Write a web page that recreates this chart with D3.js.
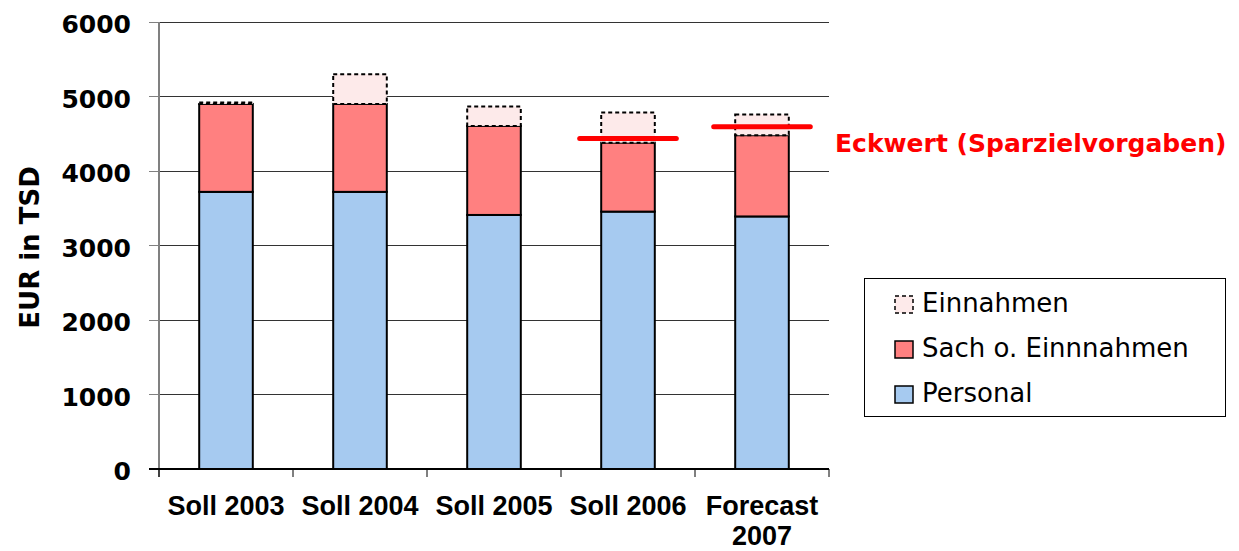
<!DOCTYPE html>
<html>
<head>
<meta charset="utf-8">
<script src="https://cdn.jsdelivr.net/npm/d3@7"></script>
<style>
  html, body { margin: 0; padding: 0; background: #fff; }
  svg { display: block; }
</style>
</head>
<body>
<svg id="chart" width="1239" height="551"></svg>
<script>
// Budget by year, in thousand EUR
const categories = ["Soll 2003", "Soll 2004", "Soll 2005", "Soll 2006", "Forecast 2007"];
const personal   = [3720, 3720, 3410, 3455, 3390];
const sach       = [1180, 1180, 1195, 925, 1090];
const einnahmen  = [20, 400, 260, 405, 280];
const eckwert    = [null, null, null, 4435, 4595];
const yTicks     = [0, 1000, 2000, 3000, 4000, 5000, 6000];
const seriesKeys = ["personal", "sach", "einnahmen"];
const seriesNames = { personal: "Personal", sach: "Sach o. Einnnahmen", einnahmen: "Einnahmen" };
const eckwertLabel = "Eckwert (Sparzielvorgaben)";
const yTitle = "EUR in TSD";

const rows = categories.map((c, i) => ({
  cat: c, personal: personal[i], sach: sach[i], einnahmen: einnahmen[i], eckwert: eckwert[i]
}));

const fills = { personal: "#a6caf0", sach: "#ff8080", einnahmen: "#fdeaea" };

const svg = d3.select("#chart");
const plot = { left: 159, right: 829, top: 22, bottom: 469 };

const x = d3.scaleBand().domain(categories).range([plot.left, plot.right]).paddingInner(0.6).paddingOuter(0.3);
const y = d3.scaleLinear().domain([0, 6000]).range([plot.bottom, plot.top]);

// horizontal grid lines
svg.append("g")
  .selectAll("line")
  .data(yTicks.filter(t => t > 0))
  .join("line")
  .attr("x1", plot.left).attr("x2", plot.right)
  .attr("y1", d => y(d)).attr("y2", d => y(d))
  .attr("stroke", "#333").attr("stroke-width", 1)
  .attr("shape-rendering", "crispEdges");

// stacked bars
const stack = d3.stack().keys(seriesKeys)(rows);
const barG = svg.append("g");
stack.forEach(layer => {
  const key = layer.key;
  barG.append("g")
    .selectAll("rect")
    .data(layer)
    .join("rect")
    .attr("x", d => x(d.data.cat))
    .attr("width", x.bandwidth())
    .attr("y", d => y(d[1]))
    .attr("height", d => y(d[0]) - y(d[1]))
    .attr("fill", fills[key])
    .attr("stroke", "#000")
    .attr("stroke-width", 2)
    .attr("stroke-dasharray", key === "einnahmen" ? "4,3" : null);
});

// target lines
const extend = 21.5;
svg.append("g")
  .selectAll("line")
  .data(rows.filter(r => r.eckwert != null))
  .join("line")
  .attr("x1", d => x(d.cat) - extend)
  .attr("x2", d => x(d.cat) + x.bandwidth() + extend)
  .attr("y1", d => y(d.eckwert)).attr("y2", d => y(d.eckwert))
  .attr("stroke", "#ff0000").attr("stroke-width", 5).attr("stroke-linecap", "round");

// left axis
const yAxis = svg.append("g");
yAxis.append("line")
  .attr("x1", plot.left).attr("x2", plot.left)
  .attr("y1", plot.top).attr("y2", plot.bottom + 8)
  .attr("stroke", "#808080").attr("stroke-width", 2);
yAxis.selectAll("line.tick")
  .data(yTicks)
  .join("line").attr("class", "tick")
  .attr("x1", plot.left - 10).attr("x2", plot.left)
  .attr("y1", d => y(d)).attr("y2", d => y(d))
  .attr("stroke", "#808080").attr("stroke-width", 1)
  .attr("shape-rendering", "crispEdges");
yAxis.selectAll("text")
  .data(yTicks)
  .join("text")
  .attr("x", 131)
  .attr("y", d => y(d) + 11)
  .attr("text-anchor", "end")
  .attr("font-family", "DejaVu Sans, sans-serif")
  .attr("font-weight", "bold")
  .attr("font-size", 25)
  .attr("fill", "#000")
  .text(d => d);

// y title
svg.append("text")
  .attr("transform", `translate(39,${(plot.top + plot.bottom) / 2 + 2}) rotate(-90)`)
  .attr("text-anchor", "middle")
  .attr("font-family", "DejaVu Sans, sans-serif")
  .attr("font-weight", "bold")
  .attr("font-size", 26)
  .attr("fill", "#000")
  .text(yTitle);

// bottom axis
const step = x.step();
const xAxis = svg.append("g");
xAxis.append("line")
  .attr("x1", plot.left - 10).attr("x2", plot.right)
  .attr("y1", plot.bottom).attr("y2", plot.bottom)
  .attr("stroke", "#000").attr("stroke-width", 2);
xAxis.selectAll("line.tick")
  .data(d3.range(categories.length + 1))
  .join("line").attr("class", "tick")
  .attr("x1", i => plot.left + i * step).attr("x2", i => plot.left + i * step)
  .attr("y1", plot.bottom).attr("y2", plot.bottom + 8)
  .attr("stroke", "#000").attr("stroke-width", 1);

const catLabels = xAxis.selectAll("text")
  .data(categories)
  .join("text")
  .attr("x", d => x(d) + x.bandwidth() / 2)
  .attr("y", 515)
  .attr("text-anchor", "middle")
  .attr("font-family", "Liberation Sans, Arial, sans-serif")
  .attr("font-weight", "bold")
  .attr("font-size", 27)
  .attr("fill", "#000");

// wrap category labels that do not fit in one band step
catLabels.each(function(d) {
  const t = d3.select(this);
  const words = d.split(" ");
  let line = [];
  let tspan = t.append("tspan").attr("x", t.attr("x")).attr("dy", 0);
  words.forEach(w => {
    line.push(w);
    tspan.text(line.join(" "));
    if (tspan.node().getComputedTextLength() > step - 6 && line.length > 1) {
      line.pop();
      tspan.text(line.join(" "));
      line = [w];
      tspan = t.append("tspan").attr("x", t.attr("x")).attr("dy", 30).text(w);
    }
  });
});

// target label
svg.append("text")
  .attr("x", 835).attr("y", 152)
  .attr("font-family", "DejaVu Sans, sans-serif")
  .attr("font-weight", "bold")
  .attr("font-size", 25)
  .attr("fill", "#ff0000")
  .text(eckwertLabel);

// legend
const legend = svg.append("g");
legend.append("rect")
  .attr("x", 864.5).attr("y", 278.5).attr("width", 361).attr("height", 138)
  .attr("fill", "#fff").attr("stroke", "#000").attr("stroke-width", 1);
const legendKeys = ["einnahmen", "sach", "personal"];
const legendY = d3.scalePoint().domain(legendKeys).range([312, 402]);
const items = legend.selectAll("g.item")
  .data(legendKeys)
  .join("g").attr("class", "item");
items.append("rect")
  .attr("x", 895).attr("y", d => legendY(d) - 16)
  .attr("width", 18).attr("height", 17)
  .attr("fill", d => fills[d])
  .attr("stroke", "#000")
  .attr("stroke-width", 1.5)
  .attr("stroke-dasharray", d => d === "einnahmen" ? "4,3" : null);
items.append("text")
  .attr("x", 922).attr("y", d => legendY(d))
  .attr("font-family", "DejaVu Sans, sans-serif")
  .attr("font-size", 26)
  .attr("fill", "#000")
  .text(d => seriesNames[d]);
</script>
</body>
</html>
